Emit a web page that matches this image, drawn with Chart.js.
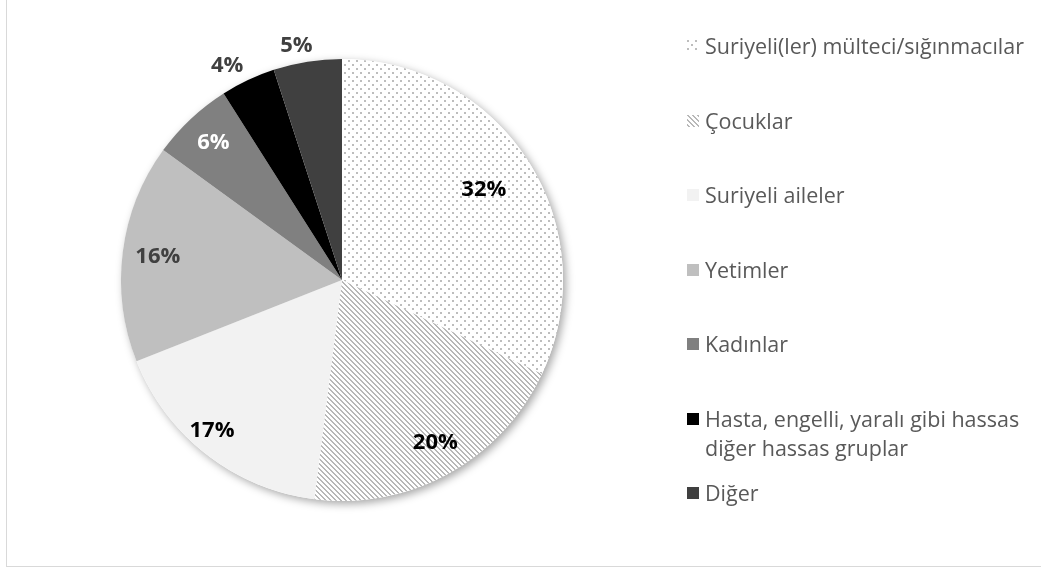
<!DOCTYPE html>
<html>
<head>
<meta charset="utf-8">
<script src="https://cdn.jsdelivr.net/npm/chart.js@4/dist/chart.umd.min.js"></script>
<style>
  body { margin: 0; background: #fff; font-family: "Open Sans", sans-serif; }
  #frame { position: absolute; left: 6px; top: -2px; width: 1040px; height: 569px; border: 1px solid #d9d9d9; box-sizing: border-box; }
  #wrap { position: absolute; left: 0; top: 0; width: 685px; height: 560px; }
  #legend { position: absolute; left: 687px; top: 31px; width: 350px; }
  .item { display: flex; align-items: flex-start; height: 74.5px; color: #595959; font-size: 21.5px; line-height: 29px; }
  .item canvas { flex: none; margin-top: 9px; margin-right: 6px; }
</style>
</head>
<body>
<div id="frame"></div>
<div id="wrap"><canvas id="myChart"></canvas></div>
<div id="legend"></div>
<script>
let labels = ['Suriyeli(ler) mülteci/sığınmacılar', 'Çocuklar', 'Suriyeli aileler', 'Yetimler', 'Kadınlar', 'Hasta, engelli, yaralı gibi hassas diğer hassas gruplar', 'Diğer']
let values = [32, 20, 17, 16, 6, 4, 5]
let label_texts = ['32%', '20%', '17%', '16%', '6%', '4%', '5%']

// label look and placement (fraction of the radius along the mid angle, small angle nudge in degrees)
let label_colors = ['#000000', '#000000', '#000000', '#404040', '#ffffff', '#404040', '#404040']
let label_radius = [0.76, 0.85, 0.9, 0.84, 0.85, 1.1, 1.08]
let label_nudge = [0, -1, 3, 0, 0, -3, -2]

const dots = () => {
  let c = document.createElement('canvas')
  c.width = 8
  c.height = 8
  let x = c.getContext('2d')
  x.fillStyle = '#ffffff'
  x.fillRect(0, 0, 8, 8)
  x.fillStyle = '#bdbdbd'
  x.fillRect(0, 0, 2, 2)
  x.fillRect(4, 4, 2, 2)
  return c
}

const stripes = () => {
  let c = document.createElement('canvas')
  c.width = 5
  c.height = 5
  let x = c.getContext('2d')
  x.fillStyle = '#ffffff'
  x.fillRect(0, 0, 5, 5)
  x.fillStyle = '#b8b8b8'
  for (let i = 0; i < 5; i++) {
    for (let j = 0; j < 5; j++) {
      let k = ((i - j) % 5 + 5) % 5
      if (k < 2) x.fillRect(i, j, 1, 1)
    }
  }
  return c
}

const ctx = document.getElementById('myChart').getContext('2d')
let fills = [
  ctx.createPattern(dots(), 'repeat'),
  ctx.createPattern(stripes(), 'repeat'),
  '#f2f2f2', '#bfbfbf', '#808080', '#000000', '#404040'
]

const shadow = {
  id: 'shadow',
  beforeDatasetsDraw(chart) {
    let arc = chart.getDatasetMeta(0).data[0]
    let c = chart.ctx
    c.save()
    c.shadowColor = 'rgba(0,0,0,0.35)'
    c.shadowBlur = 9
    c.shadowOffsetX = 3
    c.shadowOffsetY = 3
    c.fillStyle = '#ffffff'
    c.beginPath()
    c.arc(arc.x, arc.y, arc.outerRadius, 0, Math.PI * 2)
    c.fill()
    c.restore()
  }
}

const dataLabels = {
  id: 'dataLabels',
  afterDatasetsDraw(chart) {
    let c = chart.ctx
    c.save()
    c.font = 'bold 22px "Open Sans", sans-serif'
    c.textAlign = 'center'
    c.textBaseline = 'middle'
    chart.getDatasetMeta(0).data.forEach((arc, i) => {
      let a = (arc.startAngle + arc.endAngle) / 2 + label_nudge[i] * Math.PI / 180
      let r = arc.outerRadius * label_radius[i]
      c.fillStyle = label_colors[i]
      c.fillText(label_texts[i], arc.x + Math.cos(a) * r, arc.y + Math.sin(a) * r)
    })
    c.restore()
  }
}

const data = {
  labels: labels,
  datasets: [{
    data: values,
    backgroundColor: fills,
    borderWidth: 0
  }]
}

const config = {
  type: 'pie',
  data: data,
  options: {
    responsive: true,
    maintainAspectRatio: false,
    animation: false,
    layout: { padding: { left: 121, right: 122, top: 59, bottom: 59 } },
    plugins: {
      legend: { display: false },
      tooltip: { enabled: false }
    }
  },
  plugins: [shadow, dataLabels]
}

const myChart = new Chart(ctx, config)

// legend from the same arrays
let legend = document.getElementById('legend')
labels.forEach((name, i) => {
  let item = document.createElement('div')
  item.className = 'item'
  let sw = document.createElement('canvas')
  sw.width = 12
  sw.height = 12
  let s = sw.getContext('2d')
  s.fillStyle = i === 0 ? s.createPattern(dots(), 'repeat') : i === 1 ? s.createPattern(stripes(), 'repeat') : fills[i]
  s.fillRect(0, 0, 12, 12)
  let t = document.createElement('span')
  t.textContent = name
  item.appendChild(sw)
  item.appendChild(t)
  legend.appendChild(item)
})
</script>
</body>
</html>
